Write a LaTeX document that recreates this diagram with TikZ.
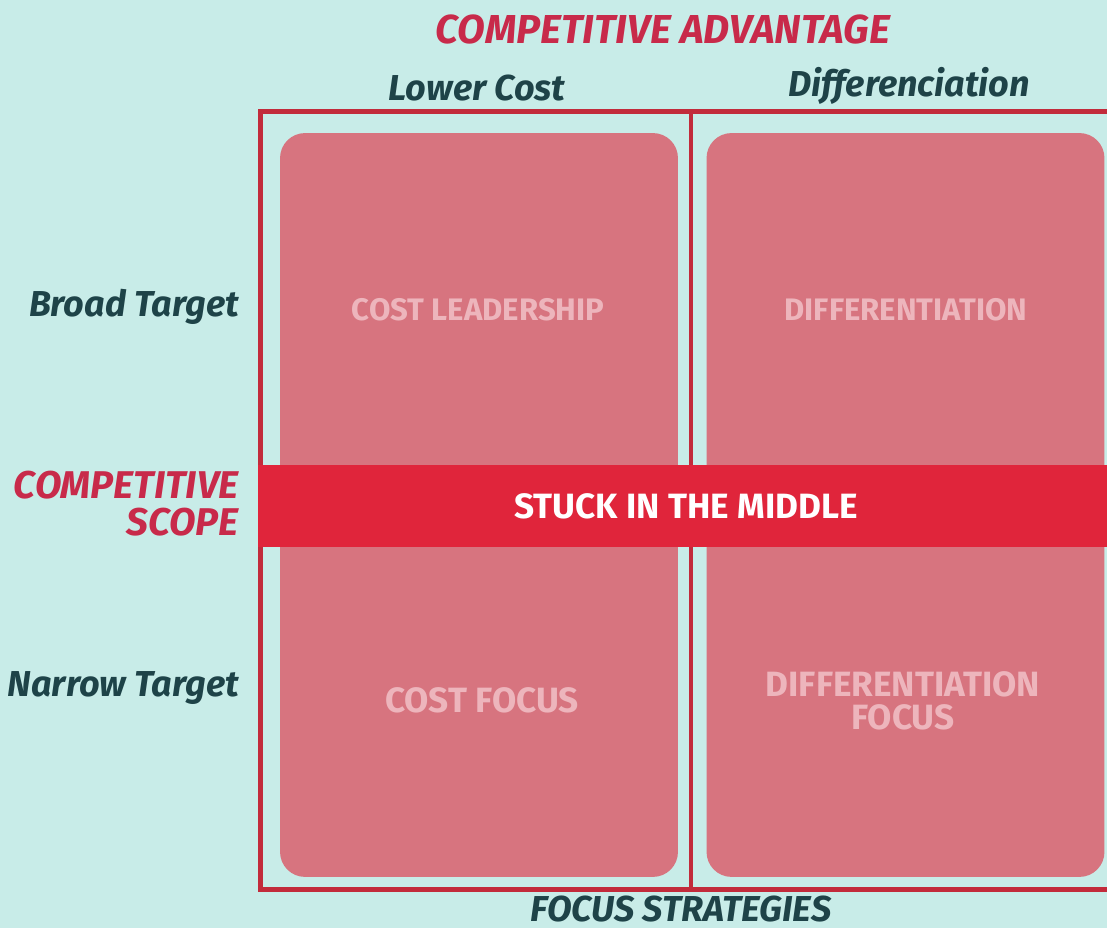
\documentclass[tikz,border=0pt]{standalone}
\usepackage{fontspec}
\setmainfont{Fira Sans}
\usetikzlibrary{positioning}

\definecolor{bgteal}{HTML}{C8ECE8}
\definecolor{framered}{HTML}{C22B3B}
\definecolor{boxpink}{HTML}{D7747F}
\definecolor{stuckred}{HTML}{E0253B}
\definecolor{darkteal}{HTML}{1E4348}
\definecolor{titlered}{HTML}{C82A4A}
\definecolor{lightpink}{HTML}{EDB5BC}

\begin{document}
\begin{tikzpicture}[
    x=0.02cm, y=-0.02cm,
    strategy/.style={fill=boxpink, rounded corners=0.5cm, minimum width=7.96cm, minimum height=14.88cm, inner sep=0pt},
    stratlabel/.style={text=lightpink, font=\bfseries\fontsize{17.7}{20}\selectfont, align=center},
    focuslabel/.style={stratlabel, font=\bfseries\fontsize{20}{19}\selectfont},
    axislabel/.style={text=darkteal, font=\bfseries\itshape\fontsize{20.5}{22}\selectfont},
    headlabel/.style={text=titlered, font=\bfseries\itshape\fontsize{22}{21}\selectfont, align=right},
    frameline/.style={draw=framered, line width=0.1cm},
]

% background and page size
\fill[bgteal] (0,0) rectangle (1107,928);
\useasboundingbox (0,0) rectangle (1107,928);

% the four strategy boxes
\node[strategy] (left-box) at (479,505) {};
\node[strategy] (right-box) at (905.5,505) {};

% outer frame and divider
\draw[frameline] (260,112) rectangle (1112,890);
\coordinate (div-top) at (691,112);
\coordinate (div-bot) at (691,890);
\draw[frameline, line width=0.08cm] (div-top) -- (div-bot);

% middle band
\node[fill=stuckred, minimum width=16.98cm, minimum height=1.64cm, inner sep=0pt] (stuck) at (682.5,506) {};
\node[text=white, font=\bfseries\fontsize{20}{22}\selectfont] (stuck-text) at (686,506) {STUCK IN THE MIDDLE};

% strategy names
\node[stratlabel] (cost-lead) at (478,310) {COST LEADERSHIP};
\node[stratlabel] (diff) at (906,310) {DIFFERENTIATION};
\node[focuslabel] (cost-focus) at (482,700) {COST FOCUS};
\node[focuslabel] (diff-focus) at (903,701) {DIFFERENTIATION\\FOCUS};

% column heads
\node[headlabel, font=\bfseries\itshape\fontsize{23}{24}\selectfont] (comp-adv) at (663,30) {COMPETITIVE ADVANTAGE};
\node[axislabel] (lower-cost) at (477,88) {Lower Cost};
\node[axislabel] (differ) at (909,86) {Differenciation};

% row heads
\node[axislabel, anchor=east] (broad) at (245,307) {Broad Target};
\node[headlabel, anchor=east] (comp-scope) at (245,504) {COMPETITIVE\\SCOPE};
\node[axislabel, anchor=east] (narrow) at (245,688) {Narrow Target};

\node[axislabel, inner sep=0pt] (focus-strat) at (681,909) {FOCUS STRATEGIES};

\end{tikzpicture}
\end{document}
